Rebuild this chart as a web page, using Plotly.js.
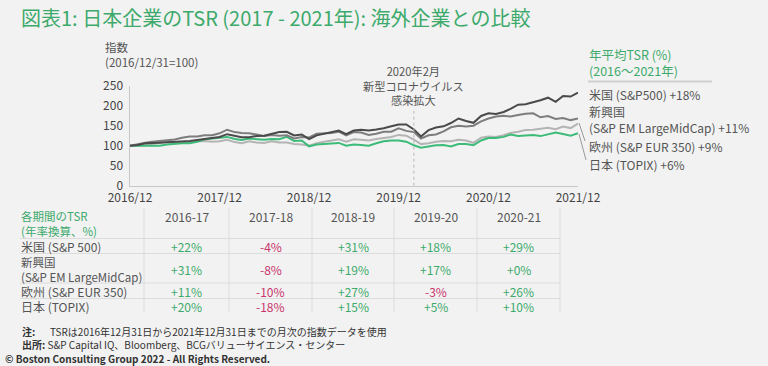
<!DOCTYPE html>
<html>
<head>
<meta charset="utf-8">
<script src="https://cdn.plot.ly/plotly-3.0.1.min.js"></script>
<style>
  html, body { margin: 0; padding: 0; background: #f2f2f2; }
  #chart { width: 768px; height: 366px; }
</style>
</head>
<body>
<div id="chart"></div>
<script>
// ---------------- DATA ----------------
const months = [
  '2016-12',
  '2017-01','2017-02','2017-03','2017-04','2017-05','2017-06','2017-07','2017-08','2017-09','2017-10','2017-11','2017-12',
  '2018-01','2018-02','2018-03','2018-04','2018-05','2018-06','2018-07','2018-08','2018-09','2018-10','2018-11','2018-12',
  '2019-01','2019-02','2019-03','2019-04','2019-05','2019-06','2019-07','2019-08','2019-09','2019-10','2019-11','2019-12',
  '2020-01','2020-02','2020-03','2020-04','2020-05','2020-06','2020-07','2020-08','2020-09','2020-10','2020-11','2020-12',
  '2021-01','2021-02','2021-03','2021-04','2021-05','2021-06','2021-07','2021-08','2021-09','2021-10','2021-11','2021-12'
];
const usIndex = [100,
  101.9,106.0,106.1,107.2,108.7,109.3,111.6,112.0,114.3,116.9,120.5,121.8,
  128.8,124.0,120.9,121.4,124.3,125.1,129.7,134.0,134.8,125.6,128.1,116.6,
  125.9,130.0,132.5,137.8,129.0,138.0,140.0,137.8,140.4,143.5,148.7,153.2,
  153.1,140.5,123.1,138.9,145.5,148.4,156.7,168.0,161.6,157.2,174.4,181.0,
  179.2,184.2,192.3,202.5,203.9,208.6,213.6,220.0,209.7,224.4,222.8,232.8];
const emIndex = [100,
  104.5,107.5,110,112,114.5,115.5,120,123,123,126,126,131,
  140,134,132,131,128,124,127,125,126,118,122,120.5,
  130,131,132,135,126,134,133,127,130,135,135,143.5,
  137,134,118,126,128,136,146,150,148,150,161,168,
  173,175,173,177,180,181,171,174,167,169,164,168];
const euIndex = [100,
  100,102,105,107,110,108,109,108,111,112,110,111,
  115,109,106,111,108,107,111,108,108,104,103,100,
  106,110,112,116,110,116,115,113,117,120,122,127,
  125,115,104,106,110,112,111,115,113,107,120,123,
  122,126,132,135,139,140,143,145,141,148,144,155];
const jpIndex = [100,
  100,101,100,100,103,105,106,106,110,116,118,120,
  122,117,114,118,116,115,117,116,122,112,113,98.4,
  103,105,105,107,100,103,102,100,106,111,113,113,
  110,101,95,98,101,102,98,104,104,101,113,119,
  119,122,128,124,126,127,124,128,133,129,125,131];

const xTickVals = ['2016-12','2017-12','2018-12','2019-12','2020-12','2021-12'];
const xTickText = ['2016/12','2017/12','2018/12','2019/12','2020/12','2021/12'];
const yTickVals = [0,50,100,150,200,250];

const covidMonth = '2020-02';
const covidLabel = ['2020年2月','新型コロナウイルス','感染拡大'];

const legendTitle = ['年平均TSR (%)','(2016～2021年)'];
const legendLines = [['米国 (S&P500) +18%'],['新興国','(S&P EM LargeMidCap) +11%'],['欧州 (S&P EUR 350) +9%'],['日本 (TOPIX) +6%']];

const tableTitle = ['各期間のTSR','(年率換算、%)'];
const periods = ['2016-17','2017-18','2018-19','2019-20','2020-21'];
const rowLabels = [['米国 (S&P 500)'],['新興国','(S&P EM LargeMidCap)'],['欧州 (S&P EUR 350)'],['日本 (TOPIX)']];
const tsrUS = [22,-4,31,18,29];
const tsrEM = [31,-8,19,17,0];
const tsrEU = [11,-10,27,-3,26];
const tsrJP = [20,-18,15,5,10];

const titleText = '図表1: 日本企業のTSR (2017 - 2021年): 海外企業との比較';
const yTitle = ['指数','(2016/12/31=100)'];
const notes = 'TSRは2016年12月31日から2021年12月31日までの月次の指数データを使用';
const source = 'S&P Capital IQ、Bloomberg、BCGバリューサイエンス・センター';
const copyright = '© Boston Consulting Group 2022 - All Rights Reserved.';

// ---------------- STYLE / LAYOUT ----------------
const W = 768, H = 366;
const px = x => x / W;
const py = y => 1 - y / H;
const FONT = '"Noto Sans CJK JP", "Noto Sans", sans-serif';
const GREEN = '#3daa6c';
const RED = '#c8356c';
const TXT = '#555555';
const AXIS = '#c8c8c8';

const traces = [
  {x: months, y: euIndex, color: '#b4b4b4'},
  {x: months, y: jpIndex, color: '#3dbb79'},
  {x: months, y: emIndex, color: '#7d7d7d'},
  {x: months, y: usIndex, color: '#4a4a4a'}
].map(t => ({
  type: 'scatter', mode: 'lines', x: t.x, y: t.y,
  line: {color: t.color, width: 2}, hoverinfo: 'skip', showlegend: false
}));

const annotations = [];
const shapes = [];
function txt(text, x, y, opts) {
  annotations.push(Object.assign({
    text: text, x: x, y: y, xref: 'paper', yref: 'paper',
    xanchor: 'left', yanchor: 'middle', align: 'left', showarrow: false,
    font: {family: FONT, size: 12, color: TXT}
  }, opts || {}));
}
function line(x0, y0, x1, y1, color, width, dash) {
  shapes.push({type: 'line', xref: 'paper', yref: 'paper',
    x0: px(x0), y0: py(y0), x1: px(x1), y1: py(y1),
    line: {color: color, width: width, dash: dash || 'solid'}});
}

// y-axis title
txt(yTitle.join('<br>'), px(103), py(54.5), {font: {family: FONT, size: 11.5, color: TXT}});

// covid marker
shapes.push({type: 'line', xref: 'x', yref: 'y', x0: covidMonth, x1: covidMonth, y0: 0, y1: 195,
  line: {color: '#b8b8b8', width: 1, dash: 'dot'}});
annotations.push({
  text: covidLabel.join('<br>'), x: covidMonth, y: py(85.5), xref: 'x', yref: 'paper',
  xanchor: 'center', yanchor: 'middle', align: 'center', showarrow: false,
  font: {family: FONT, size: 11.2, color: TXT}
});

// legend block
txt(legendTitle.join('<br>'), px(587), py(63), {font: {family: FONT, size: 12.5, color: GREEN}});
line(588, 81.5, 712, 81.5, '#cfcfcf', 2);
const legendY = [94, 119.5, 146, 164];
legendLines.forEach((l, i) => txt(l.join('<br>'), px(587), py(legendY[i]), {font: {family: FONT, size: 12, color: TXT}}));
line(579, 123, 585, 141, '#9a9a9a', 1);
line(579, 134, 586, 160, '#9a9a9a', 1);

// table
const colSep = [144, 229, 312, 394, 477, 560];
const rowSep = [238.5, 253.5, 283, 298.5];
colSep.forEach(x => line(x, 208, x, 312, '#dcdcdc', 1));
rowSep.forEach(y => line(20, y, 560, y, '#dcdcdc', 1));
txt(tableTitle.join('<br>'), px(19), py(223.5), {font: {family: FONT, size: 11.5, color: GREEN}});
const colCenters = colSep.slice(0, -1).map((x, i) => (x + colSep[i + 1]) / 2);
periods.forEach((p, i) => txt(p, px(colCenters[i]), py(216), {xanchor: 'center', align: 'center'}));
const rowY = [246.5, 269, 291, 306.5];
rowLabels.forEach((lbls, r) => txt(lbls.join('<br>'), px(19), py(rowY[r]),
  {font: {family: FONT, size: lbls.length > 1 ? 11.5 : 12, color: TXT}}));
[tsrUS, tsrEM, tsrEU, tsrJP].forEach((vals, r) => vals.forEach((v, c) => {
  txt((v >= 0 ? '+' : '') + v + '%', px(colCenters[c]), py(rowY[r]), {
    xanchor: 'center', align: 'center', font: {family: FONT, size: 12, color: v >= 0 ? GREEN : RED}
  });
}));

// footnotes
const FOOT = {family: FONT, size: 10, color: '#333333'};
txt('<b>注:</b>', px(20), py(331), {font: FOOT});
txt(notes, px(48), py(331), {font: FOOT});
txt('<b>出所:</b> ' + source, px(20), py(344.5), {font: FOOT});
txt('<b>' + copyright + '</b>', px(3), py(358), {font: FOOT});

const layout = {
  width: W, height: H,
  margin: {l: 0, r: 0, t: 0, b: 0, pad: 0},
  paper_bgcolor: '#f2f2f2', plot_bgcolor: 'rgba(0,0,0,0)',
  showlegend: false,
  title: {text: titleText, x: px(21), xanchor: 'left', xref: 'paper',
          y: py(19), yanchor: 'middle', yref: 'paper',
          font: {family: FONT, size: 20, color: GREEN}},
  xaxis: {
    type: 'date', domain: [px(130), px(578)], range: [months[0], months[months.length - 1]],
    tickmode: 'array', tickvals: xTickVals, ticktext: xTickText,
    showgrid: false, zeroline: false, showline: true, linecolor: AXIS, linewidth: 1.5,
    ticks: '', tickfont: {family: FONT, size: 12, color: '#444444'}, automargin: false
  },
  yaxis: {
    domain: [py(185.7), py(85.7)], range: [0, 250],
    tickmode: 'array', tickvals: yTickVals,
    showgrid: false, zeroline: false, showline: true, linecolor: AXIS, linewidth: 1.5,
    ticks: '', ticklabelstandoff: 3,
    tickfont: {family: FONT, size: 12, color: '#444444'}, automargin: false
  },
  annotations: annotations,
  shapes: shapes
};

Plotly.newPlot('chart', traces, layout, {displayModeBar: false, staticPlot: true});
</script>
</body>
</html>
